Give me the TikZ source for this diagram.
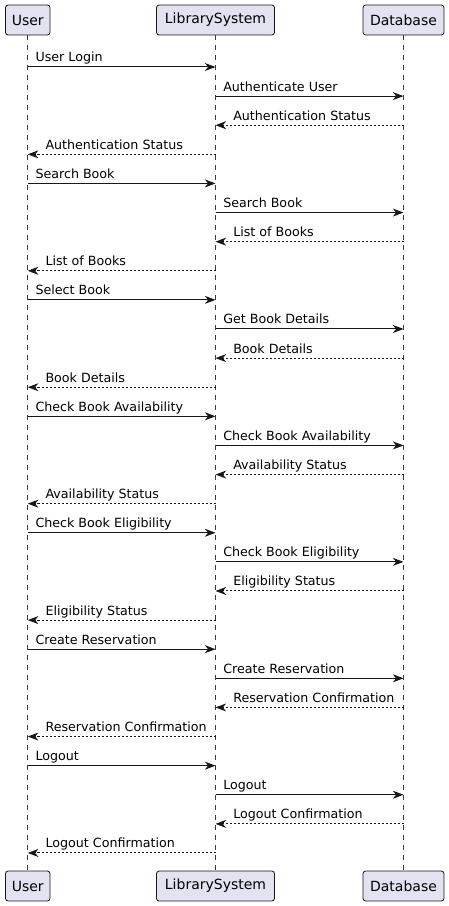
\documentclass[tikz,border=0pt]{standalone}
\usepackage{fontspec}
\setmainfont{DejaVu Sans}
\usetikzlibrary{arrows.meta, calc}
\definecolor{partfill}{HTML}{E2E2F0}
\definecolor{partline}{HTML}{181818}

\begin{document}
\begin{tikzpicture}[x=0.75pt, y=-0.75pt,
    part/.style={draw=partline, fill=partfill, rounded corners=2pt, line width=0.6pt,
                 minimum height=22.5pt, inner sep=0pt, font=\fontsize{10.5}{12}\selectfont},
    life/.style={draw=partline!85, line width=0.5pt, dash pattern=on 3.75pt off 3.75pt},
    call/.style={draw=partline, line width=0.75pt,
                 -{Stealth[length=8pt, width=6pt, inset=2.5pt]}},
    reply/.style={call, dash pattern=on 1.5pt off 1.5pt},
    lbl/.style={font=\fontsize{9.5}{11}\selectfont, inner sep=0pt, anchor=base west}]
    \useasboundingbox (0,0) rectangle (449,906);

    % participants, top and bottom
    \node[part, minimum width=33.4pt] (u) at (27.75,20) {User};
    \node[part, minimum width=88.5pt] (s) at (215.5,20) {LibrarySystem};
    \node[part, minimum width=60.75pt] (d) at (403.5,20) {Database};
    \node[part, minimum width=33.4pt] (u2) at (27.75,886) {User};
    \node[part, minimum width=88.5pt] (s2) at (215.5,886) {LibrarySystem};
    \node[part, minimum width=60.75pt] (d2) at (403.5,886) {Database};

    % lifelines
    \draw[life] (u) -- (u2);
    \draw[life] (s) -- (s2);
    \draw[life] (d) -- (d2);

    % one round trip per step
    \foreach \ask/\query/\answer/\tell [count=\g from 0] in {
        User Login/Authenticate User/Authentication Status/Authentication Status,
        Search Book/Search Book/List of Books/List of Books,
        Select Book/Get Book Details/Book Details/Book Details,
        Check Book Availability/Check Book Availability/Availability Status/Availability Status,
        Check Book Eligibility/Check Book Eligibility/Eligibility Status/Eligibility Status,
        Create Reservation/Create Reservation/Reservation Confirmation/Reservation Confirmation,
        Logout/Logout/Logout Confirmation/Logout Confirmation}
    {
        \pgfmathsetmacro\ya{67+116.44*\g}
        \pgfmathsetmacro\yb{\ya+29.11}
        \pgfmathsetmacro\yc{\ya+58.22}
        \pgfmathsetmacro\yd{\ya+87.33}

        \draw[call] (u |- 0,\ya) -- (s |- 0,\ya);
        \node[lbl] at ($(u |- 0,\ya)+(7.5,-5)$) {\ask};

        \draw[call] (s |- 0,\yb) -- (d |- 0,\yb);
        \node[lbl] at ($(s |- 0,\yb)+(7.5,-5)$) {\query};

        \draw[reply] (d |- 0,\yc) -- (s |- 0,\yc);
        \node[lbl] at ($(s |- 0,\yc)+(17.5,-5)$) {\answer};

        \draw[reply] (s |- 0,\yd) -- (u |- 0,\yd);
        \node[lbl] at ($(u |- 0,\yd)+(17.5,-5)$) {\tell};
    }
\end{tikzpicture}
\end{document}
